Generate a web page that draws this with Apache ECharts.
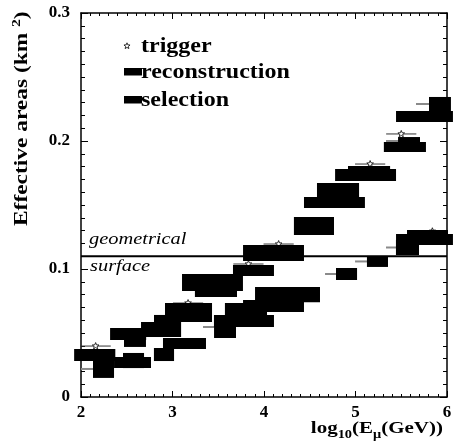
<!DOCTYPE html>
<html><head><meta charset="utf-8">
<script src="https://cdn.jsdelivr.net/npm/echarts@6/dist/echarts.min.js"></script>
<style>html,body{margin:0;padding:0;background:#fff}#c{width:453px;height:444px}</style>
</head><body><div id="c"></div>
<script>
// ---------------- data ----------------
const seriesNames = ['trigger', 'reconstruction', 'selection'];
const geomSurface = 0.11;               // geometrical surface (km^2)

// trigger: log10(E) centre, effective area, horizontal half-width
const trigX    = [2.16, 3.17, 3.83, 4.16, 5.16, 5.50, 5.84];
const trigY    = [0.0398, 0.0734, 0.1039, 0.1195, 0.182, 0.2055, 0.1295];
const trigXerr = [0.165, 0.165, 0.165, 0.165, 0.165, 0.165, 0.165];

// reconstruction: error boxes (centre, half-width, value, half-height)
const recoX    = [2.15, 2.515, 2.59, 2.875, 3.175, 3.437, 3.885, 4.104, 4.546, 4.77, 4.809, 5.11, 5.148, 5.54, 5.585, 5.754, 5.923];
const recoXerr = [0.225, 0.197, 0.12, 0.219, 0.257, 0.333, 0.224, 0.333, 0.219, 0.333, 0.23, 0.333, 0.23, 0.23, 0.12, 0.311, 0.12];
const recoY    = [0.0328, 0.0492, 0.0465, 0.0527, 0.066, 0.0895, 0.0988, 0.1125, 0.1336, 0.152, 0.1617, 0.1734, 0.1758, 0.1953, 0.2, 0.2191, 0.2289];
const recoYerr = [0.0047, 0.0047, 0.0074, 0.0059, 0.0074, 0.0066, 0.0043, 0.0063, 0.007, 0.0043, 0.0055, 0.0047, 0.0047, 0.0039, 0.0031, 0.0043, 0.0055];
const recoBarLo = [null, null, null, null, null, null, null, null, null, null, null, null, null, null, 5.333, null, 5.661];

// selection
const selX    = [2.246, 2.563, 2.574, 2.907, 2.913, 3.131, 3.475, 3.574, 3.781, 3.803, 4.104, 4.257, 4.902, 5.24, 5.568, 5.754, 5.787];
const selXerr = [0.115, 0.202, 0.115, 0.11, 0.115, 0.235, 0.23, 0.12, 0.328, 0.23, 0.333, 0.355, 0.115, 0.115, 0.126, 0.311, 0.224];
const selY    = [0.0219, 0.027, 0.0285, 0.0332, 0.0582, 0.0418, 0.0848, 0.0547, 0.0594, 0.0688, 0.0711, 0.08, 0.0961, 0.1059, 0.1168, 0.123, 0.1266];
const selYerr = [0.007, 0.0043, 0.0059, 0.0051, 0.0059, 0.0043, 0.0066, 0.0086, 0.0047, 0.0047, 0.0047, 0.0059, 0.0047, 0.0043, 0.0059, 0.0043, 0.0039];
const selBarLo = [2.0, null, null, null, null, null, null, 3.333, null, null, null, null, 4.667, 4.995, 5.333, null, null];

// ---------------- helpers ----------------
const FONT = 'Liberation Serif';
function starPts(cx, cy, R, r) {
  const pts = [];
  for (let k = 0; k < 10; k++) {
    const ang = -Math.PI / 2 + k * Math.PI / 5;
    const rad = k % 2 === 0 ? R : r;
    pts.push([cx + rad * Math.cos(ang), cy + rad * Math.sin(ang)]);
  }
  return pts;
}
function boxSeries(name, X, Xe, Y, Ye, BarLo) {
  return {
    type: 'custom', name: name, z: 3, clip: false,
    encode: { x: 0, y: 2 },
    data: X.map((x, i) => [x, Xe[i], Y[i], Ye[i]]),
    renderItem(params, api) {
      const i = params.dataIndex;
      const x = api.value(0), xe = api.value(1), y = api.value(2), ye = api.value(3);
      const a = api.coord([x - xe, y + ye]);
      const b = api.coord([x + xe, y - ye]);
      const children = [];
      if (BarLo[i] != null) {
        const p = api.coord([BarLo[i], y]);
        children.push({ type: 'line', shape: { x1: p[0], y1: p[1], x2: a[0] + 1, y2: p[1] },
          style: { stroke: '#8a8a8a', lineWidth: 2 } });
      }
      children.push({ type: 'rect', shape: { x: a[0], y: a[1], width: b[0] - a[0], height: b[1] - a[1] },
        style: { fill: '#000' } });
      return { type: 'group', children };
    }
  };
}

const axisLineStyle = { show: true, onZero: false, lineStyle: { color: '#000', width: 1.5 } };
const labelStyle = { color: '#000', fontFamily: FONT, fontWeight: 'bold', fontSize: 17 };

const chart = echarts.init(document.getElementById('c'), null, { renderer: 'canvas' });
chart.setOption({
  animation: false,
  backgroundColor: '#fff',
  grid: { left: 81, right: 6, top: 13, bottom: 47, containLabel: false, outerBoundsMode: 'none' },
  xAxis: [
    { type: 'value', min: 2, max: 6, interval: 1, position: 'bottom',
      axisLine: axisLineStyle,
      axisTick: { show: true, inside: true, length: 6, lineStyle: { color: '#000', width: 1 } },
      minorTick: { show: true, splitNumber: 10, length: 3, lineStyle: { color: '#000', width: 1 } },
      splitLine: { show: false }, minorSplitLine: { show: false },
      axisLabel: Object.assign({ margin: 7, showMinLabel: true, showMaxLabel: true }, labelStyle) },
    { type: 'value', min: 2, max: 6, interval: 1, position: 'top',
      axisLine: axisLineStyle,
      axisTick: { show: true, inside: true, length: 6, lineStyle: { color: '#000', width: 1 } },
      minorTick: { show: true, splitNumber: 10, length: 3, lineStyle: { color: '#000', width: 1 } },
      splitLine: { show: false }, axisLabel: { show: false } }
  ],
  yAxis: [
    { type: 'value', min: 0, max: 0.3, interval: 0.1, position: 'left',
      axisLine: axisLineStyle,
      axisTick: { show: true, inside: true, length: 7, lineStyle: { color: '#000', width: 1 } },
      minorTick: { show: true, splitNumber: 10, length: 4, lineStyle: { color: '#000', width: 1 } },
      splitLine: { show: false }, minorSplitLine: { show: false },
      axisLabel: Object.assign({ margin: 11, showMinLabel: true, showMaxLabel: true }, labelStyle) },
    { type: 'value', min: 0, max: 0.3, interval: 0.1, position: 'right',
      axisLine: axisLineStyle,
      axisTick: { show: true, inside: true, length: 7, lineStyle: { color: '#000', width: 1 } },
      minorTick: { show: true, splitNumber: 10, length: 4, lineStyle: { color: '#000', width: 1 } },
      splitLine: { show: false }, axisLabel: { show: false } }
  ],
  series: [
    { type: 'custom', name: seriesNames[0], z: 2, clip: false,
      encode: { x: 0, y: 1 },
      data: trigX.map((x, i) => [x, trigY[i], trigXerr[i]]),
      renderItem(params, api) {
        const x = api.value(0), y = api.value(1), xe = api.value(2);
        const c = api.coord([x, y]), l = api.coord([x - xe, y]), r = api.coord([x + xe, y]);
        return { type: 'group', children: [
          { type: 'line', shape: { x1: l[0], y1: c[1], x2: r[0], y2: c[1] }, style: { stroke: '#333', lineWidth: 1 } },
          { type: 'polygon', shape: { points: starPts(c[0], c[1], 3.5, 1.5) }, style: { fill: '#fff', stroke: '#000', lineWidth: 0.8 } }
        ] };
      } },
    boxSeries(seriesNames[1], recoX, recoXerr, recoY, recoYerr, recoBarLo),
    boxSeries(seriesNames[2], selX, selXerr, selY, selYerr, selBarLo),
    { type: 'line', name: 'geometrical surface', z: 4, symbol: 'none',
      data: [[2, geomSurface], [6, geomSurface]],
      lineStyle: { color: '#000', width: 2 } }
  ],
  graphic: [
    // legend
    { type: 'polygon', shape: { points: starPts(127, 46, 3.2, 1.4) }, style: { fill: '#fff', stroke: '#000', lineWidth: 0.8 } },
    { type: 'text', x: 141, y: 47, scaleX: 1.2, style: { text: seriesNames[0], align: 'left', verticalAlign: 'middle', fontFamily: FONT, fontWeight: 'bold', fontSize: 20, fill: '#000' } },
    { type: 'rect', shape: { x: 124, y: 68, width: 18, height: 7.5 }, style: { fill: '#000' } },
    { type: 'text', x: 141, y: 72.5, scaleX: 1.2, style: { text: seriesNames[1], align: 'left', verticalAlign: 'middle', fontFamily: FONT, fontWeight: 'bold', fontSize: 20, fill: '#000' } },
    { type: 'rect', shape: { x: 124, y: 96, width: 18, height: 7.5 }, style: { fill: '#000' } },
    { type: 'text', x: 141, y: 100.5, scaleX: 1.2, style: { text: seriesNames[2], align: 'left', verticalAlign: 'middle', fontFamily: FONT, fontWeight: 'bold', fontSize: 20, fill: '#000' } },
    // geometrical surface annotation
    { type: 'text', x: 89, y: 240, scaleX: 1.2, style: { text: 'geometrical', align: 'left', verticalAlign: 'middle', fontFamily: FONT, fontStyle: 'italic', fontSize: 17, fill: '#000' } },
    { type: 'text', x: 90, y: 267, scaleX: 1.2, style: { text: 'surface', align: 'left', verticalAlign: 'middle', fontFamily: FONT, fontStyle: 'italic', fontSize: 17, fill: '#000' } },
    // axis titles
    { type: 'text', x: 443, y: 428, scaleX: 1.2, style: {
        text: '{m|log}{s|10}{m|(E}{s|μ}{m|(GeV))}', align: 'right', verticalAlign: 'middle',
        rich: {
          m: { fontFamily: FONT, fontWeight: 'bold', fontSize: 17.5, lineHeight: 26, fill: '#000' },
          s: { fontFamily: FONT, fontWeight: 'bold', fontSize: 12, lineHeight: 12, verticalAlign: 'bottom', fill: '#000' }
        } } },
    { type: 'text', x: 22, y: 226, rotation: Math.PI / 2, scaleX: 1.2, style: {
        text: '{m|Effective areas (km }{s|2}{m|)}', align: 'left', verticalAlign: 'middle',
        rich: {
          m: { fontFamily: FONT, fontWeight: 'bold', fontSize: 19.5, lineHeight: 24, fill: '#000' },
          s: { fontFamily: FONT, fontWeight: 'bold', fontSize: 13, lineHeight: 13, verticalAlign: 'top', fill: '#000' }
        } } }
  ]
});
</script>
</body></html>
